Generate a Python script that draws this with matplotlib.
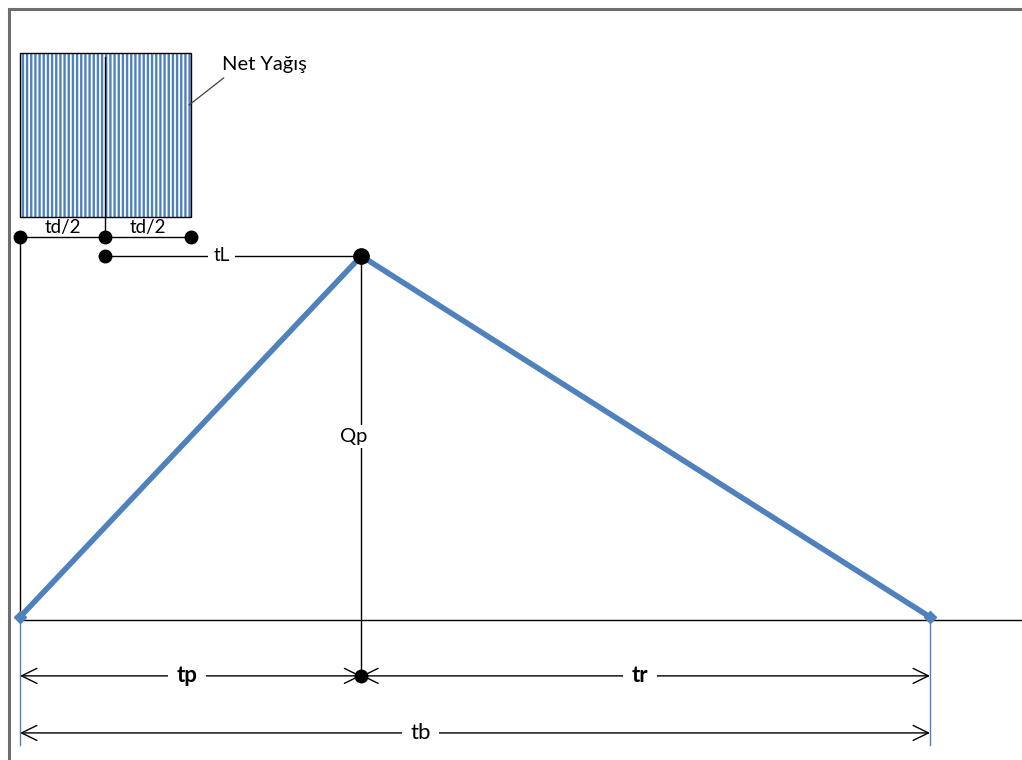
import numpy as np
import matplotlib
matplotlib.use("Agg")
import matplotlib.pyplot as plt
from matplotlib.lines import Line2D
from matplotlib.patches import Rectangle

# triangular unit hydrograph (time units, Qp = 1)
t_hydro = [0.0, 3.0, 8.0]
q_hydro = [0.0, 1.0, 0.0]
tp = 3.0
tb = 8.0
td = 1.5
tL = tp - td / 2
rain_top = 1.562
rain_bottom = 1.108

blue = "#4F81BD"
plt.rcParams["hatch.linewidth"] = 1.7
font = ["Lato", "DejaVu Sans"]

fig = plt.figure(figsize=(10.22, 7.6), dpi=100)
ax = fig.add_axes([0, 0, 1, 1])
ax.set_xlim(-0.176, 8.809)
ax.set_ylim(-0.396, 1.709)
ax.axis("off")

# window-like border (top and left)
fig.add_artist(Line2D([0.0088, 1.0], [0.9885, 0.9885], color="#6e6e6e", lw=2.2))
fig.add_artist(Line2D([0.0088, 0.0088], [0.0, 0.9885], color="#6e6e6e", lw=2.2))

# net rainfall block
ax.add_patch(Rectangle((0, rain_bottom), td, rain_top - rain_bottom,
                       facecolor="white", edgecolor=blue, lw=0, hatch="||||"))
ax.add_patch(Rectangle((0, rain_bottom), td, rain_top - rain_bottom,
                       facecolor="none", edgecolor="black", lw=1.0))
ax.plot([td / 2, td / 2], [rain_top - 0.01, 1.053], color="black", lw=1.0)
ax.plot([1.486, 1.79], [1.418, 1.493], color="#404040", lw=0.9)
ax.text(1.776, 1.529, "Net Yağış", fontsize=14.5, family=font, va="center", ha="left")

# td/2 dimension
y_td = 1.053
ax.plot([0, td], [y_td, y_td], color="black", lw=1.0)
ax.plot([0, td / 2, td], [y_td] * 3, "o", color="black", ms=9)
ax.text(td / 4, 1.078, "td/2", fontsize=13.5, family=font, ha="center", va="center")
ax.text(3 * td / 4, 1.078, "td/2", fontsize=13.5, family=font, ha="center", va="center")

# lag time tL
ax.plot([td / 2, td / 2 + tL], [1.0, 1.0], color="black", lw=1.0)
ax.plot([td / 2], [1.0], "o", color="black", ms=9)
ax.text(1.77, 1.0, "tL", fontsize=13.5, family=font, ha="center", va="center",
        bbox=dict(facecolor="white", edgecolor="none", pad=4))

# axes lines
ax.plot([-0.02, 0, 0], [1.053, 1.053, -0.008], color="black", lw=1.0)
ax.plot([0, 8.809], [-0.008, -0.008], color="black", lw=1.0)
ax.plot([0, 0], [-0.008, -0.355], color=blue, lw=1.0)
ax.plot([tb, tb], [-0.008, -0.355], color=blue, lw=1.0)

# hydrograph
ax.plot(t_hydro, q_hydro, color=blue, lw=4.0, marker="D", ms=6.5,
        markevery=[0, 2], solid_joinstyle="miter")

# Qp vertical
y_tp = -0.163
ax.plot([tp, tp], [1.0, y_tp], color="black", lw=1.0)
ax.plot([tp], [1.0], "o", color="black", ms=11)
ax.text(2.93, 0.5, "Qp", fontsize=14.5, family=font, ha="center", va="center",
        bbox=dict(facecolor="white", edgecolor="none", pad=2))

# dimension arrows
arrow = dict(arrowstyle="<->,head_length=0.55,head_width=0.27",
             color="black", lw=1.0, mutation_scale=20, shrinkA=0, shrinkB=0)
ax.annotate("", xy=(0, y_tp), xytext=(tp, y_tp), arrowprops=arrow)
ax.annotate("", xy=(tp, y_tp), xytext=(tb, y_tp), arrowprops=arrow)
ax.plot([tp], [y_tp], "o", color="black", ms=9, zorder=5)
ax.text(tp / 2 - 0.03, y_tp, "tp", fontsize=16, family=font, weight="bold",
        ha="center", va="center", bbox=dict(facecolor="white", edgecolor="none", pad=6))
ax.text((tp + tb) / 2 - 0.05, y_tp, "tr", fontsize=16, family=font, weight="bold",
        ha="center", va="center", bbox=dict(facecolor="white", edgecolor="none", pad=6))

y_tb = -0.321
ax.annotate("", xy=(0, y_tb), xytext=(tb, y_tb), arrowprops=arrow)
ax.text(3.52, y_tb, "tb", fontsize=16, family=font, ha="center", va="center",
        bbox=dict(facecolor="white", edgecolor="none", pad=6))

fig.savefig("out.png", dpi=100)
